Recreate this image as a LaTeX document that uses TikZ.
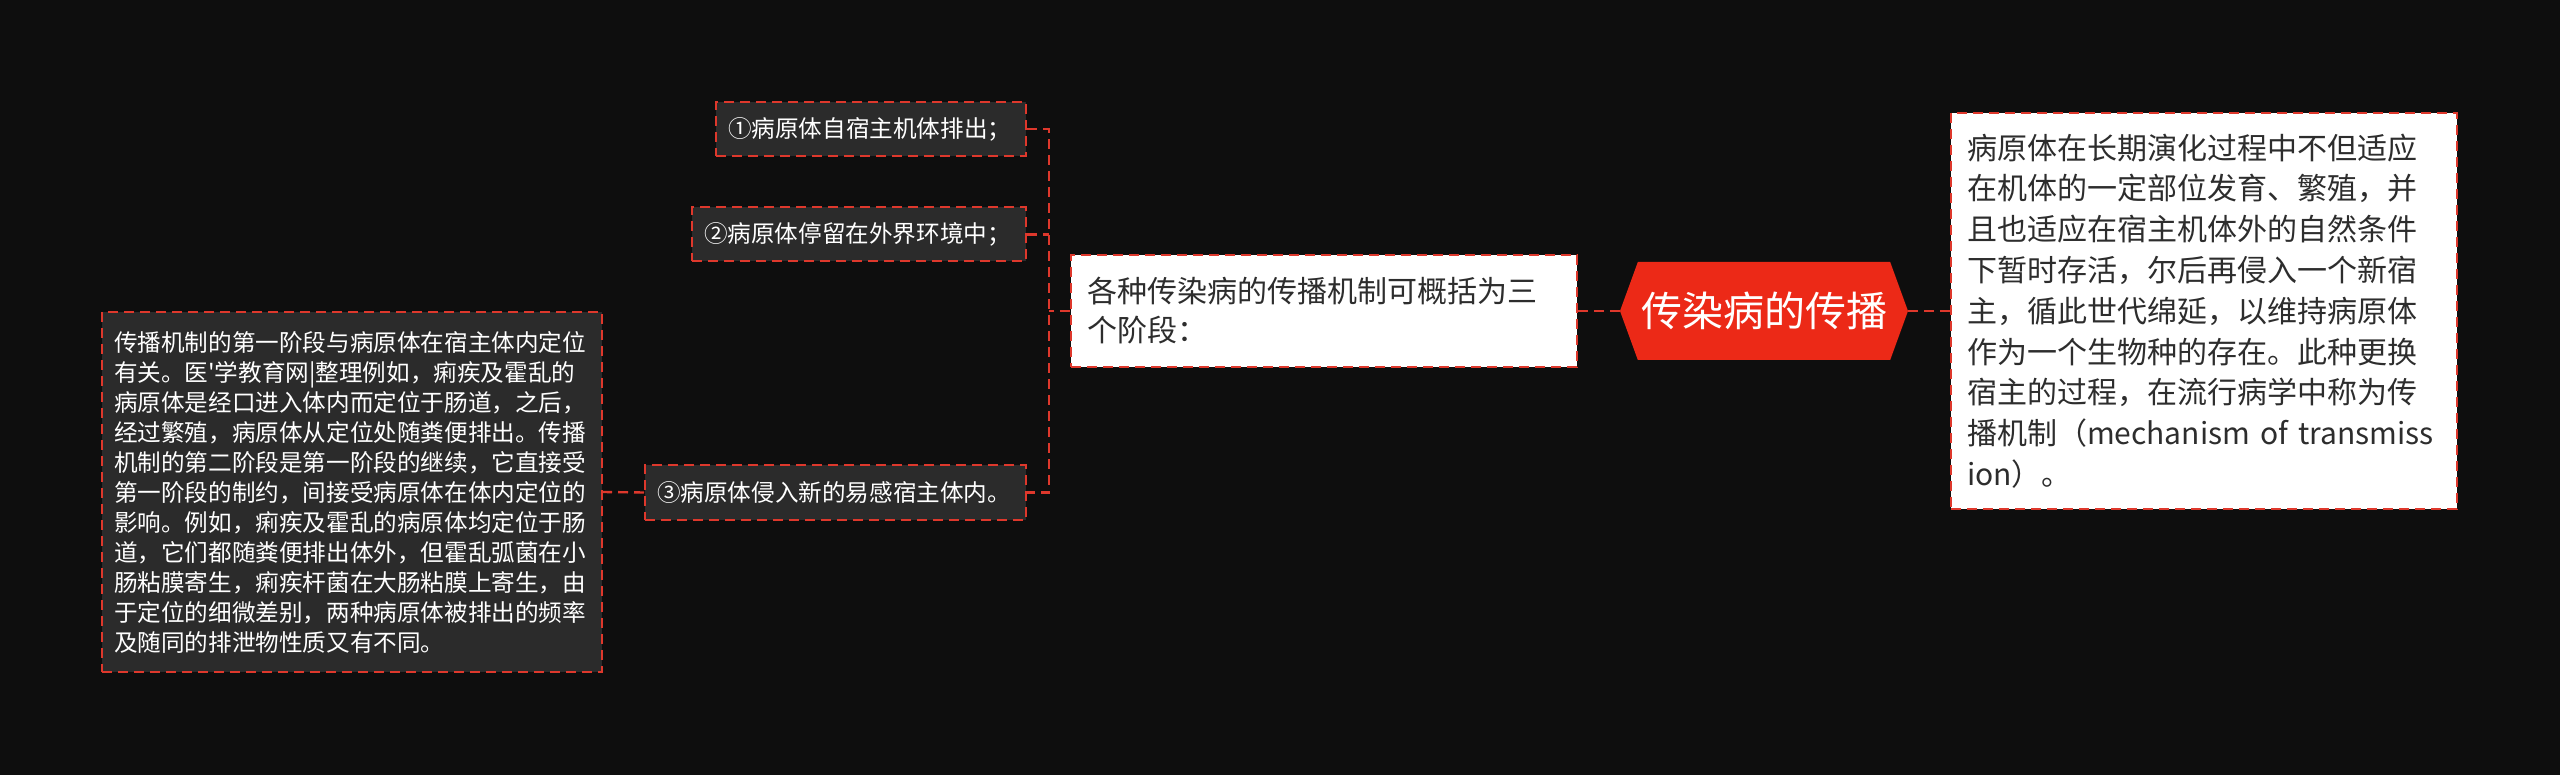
\documentclass[tikz,border=0pt]{standalone}
\usepackage{fontspec}
\setmainfont{Noto Sans CJK SC}[Ligatures=TeXOff]
\usetikzlibrary{shapes.symbols}

\definecolor{bgdark}{RGB}{14,14,14}
\definecolor{boxgray}{RGB}{43,43,43}
\definecolor{linered}{RGB}{222,56,44}
\definecolor{rootred}{RGB}{236,41,23}
\definecolor{textdark}{RGB}{45,45,45}

\tikzset{
  link/.style={draw=linered, line width=2.4pt, dash pattern=on 10pt off 6pt},
  darkbox/.style={rectangle, draw=linered, line width=2pt, dash pattern=on 10pt off 6pt,
    fill=boxgray, text=white, align=left, inner xsep=12pt, inner ysep=0pt,
    font=\fontsize{23.6}{30}\selectfont},
  lightbox/.style={rectangle, draw=linered, line width=2pt, dash pattern=on 10pt off 6pt,
    fill=white, text=textdark, align=left, inner xsep=16pt, inner ysep=0pt,
    text width=474pt, font=\fontsize{30}{40.8}\selectfont},
  rootbox/.style={shape=signal, signal to=east and west, signal pointer angle=140,
    fill=rootred, text=white, inner sep=0pt, minimum width=288pt, minimum height=98pt,
    font=\fontsize{41}{48}\selectfont}
}

\begin{document}
\begin{tikzpicture}[x=1pt, y=-1pt]

% background, same size as the reference
\fill[bgdark] (0,0) rectangle (2560,775);
\useasboundingbox (0,0) rectangle (2560,775);

% central topic
\node[rootbox] (root) at (1764,311) {传染病的传播};

% right explanation
\node[lightbox, minimum height=396pt] (expl) at (2204,311) {病原体在长期演化过程中不但适应\\在机体的一定部位发育、繁殖，并\\且也适应在宿主机体外的自然条件\\下暂时存活，尔后再侵入一个新宿\\主，循此世代绵延，以维持病原体\\作为一个生物种的存在。此种更换\\宿主的过程，在流行病学中称为传\\播机制（mechanism of transmiss\\ion）。};

% left branch: three stages
\node[lightbox, minimum height=112pt, font=\fontsize{30}{39}\selectfont] (stages) at (1324,311) {各种传染病的传播机制可概括为三\\个阶段：};

\node[darkbox, anchor=east, text width=286pt, minimum height=54pt] (stageA) at (1027,129) {①病原体自宿主机体排出；};
\node[darkbox, anchor=east, text width=310pt, minimum height=54pt] (stageB) at (1027,234.5) {②病原体停留在外界环境中；};
\node[darkbox, anchor=east, text width=357pt, minimum height=55pt] (stageC) at (1027,492.5) {③病原体侵入新的易感宿主体内。};

% detail for the stages
\node[darkbox, text width=476pt, minimum height=360pt] (detail) at (352,492) {传播机制的第一阶段与病原体在宿主体内定位\\有关。医'学教育网|整理例如，痢疾及霍乱的\\病原体是经口进入体内而定位于肠道，之后，\\经过繁殖，病原体从定位处随粪便排出。传播\\机制的第二阶段是第一阶段的继续，它直接受\\第一阶段的制约，间接受病原体在体内定位的\\影响。例如，痢疾及霍乱的病原体均定位于肠\\道，它们都随粪便排出体外，但霍乱弧菌在小\\肠粘膜寄生，痢疾杆菌在大肠粘膜上寄生，由\\于定位的细微差别，两种病原体被排出的频率\\及随同的排泄物性质又有不同。};

% connectors
\coordinate (fork) at (1049,311);
\draw[link] (root.west) -- (stages.east);
\draw[link] (root.east) -- (expl.west);
\draw[link] (stages.west) -- (fork);
\draw[link] (stageA.east) -| (fork) |- (stageC.east);
\draw[link] (stageB.east) -- (stageB.east -| fork);
\draw[link] (stageC.west) -- (detail.east);

\end{tikzpicture}
\end{document}
